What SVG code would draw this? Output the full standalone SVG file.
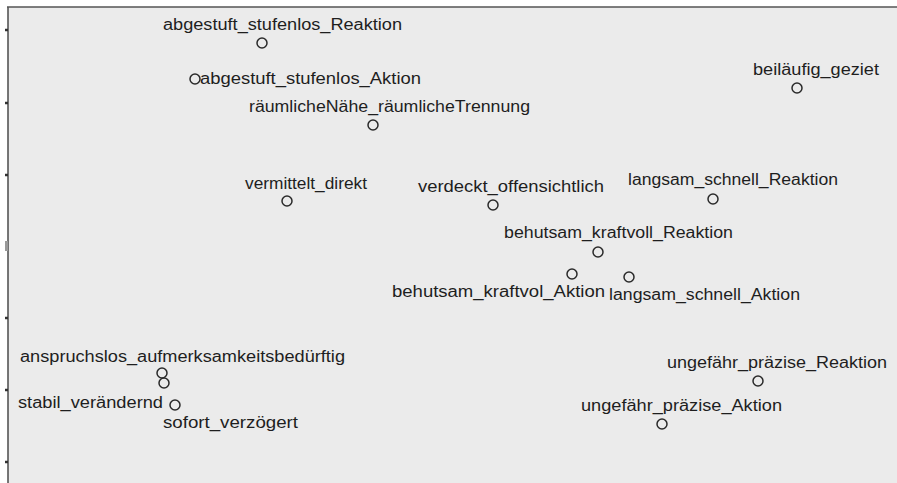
<svg xmlns="http://www.w3.org/2000/svg" width="897" height="483" viewBox="0 0 897 483">
<style>
.lbl{font-family:"Liberation Sans",Arial,sans-serif;font-size:16px;fill:#1e1e1e}
.pt{fill:none;stroke:#2a2a2a;stroke-width:1.5}
.frame{stroke:#555;stroke-width:1.6;fill:none}
.tick{stroke:#333;stroke-width:2.5}
</style>
<rect x="0" y="0" width="897" height="483" fill="#ffffff"/>
<rect x="8" y="7" width="889" height="476" fill="#ebebeb"/>
<g id="axes">
<line class="frame" x1="7" y1="7" x2="897" y2="7"/>
<line class="frame" x1="8" y1="7" x2="8" y2="483"/>
<line class="tick" x1="5" y1="30" x2="8" y2="30"/>
<line class="tick" x1="5" y1="103" x2="8" y2="103"/>
<line class="tick" x1="5" y1="175" x2="8" y2="175"/>
<line class="tick" x1="5" y1="318" x2="8" y2="318"/>
<line class="tick" x1="5" y1="390" x2="8" y2="390"/>
<line class="tick" x1="5" y1="462" x2="8" y2="462"/>
<rect x="5" y="241" width="3" height="10" fill="#999"/>
</g>
<g id="connectors"></g>
<g id="n1"><circle class="pt" cx="262" cy="43" r="5"/><text class="lbl" x="163" y="30" textLength="239" lengthAdjust="spacingAndGlyphs">abgestuft_stufenlos_Reaktion</text></g>
<g id="n2"><circle class="pt" cx="195" cy="79" r="5"/><text class="lbl" x="200" y="84" textLength="221" lengthAdjust="spacingAndGlyphs">abgestuft_stufenlos_Aktion</text></g>
<g id="n3"><circle class="pt" cx="373" cy="125" r="5"/><text class="lbl" x="249" y="112" textLength="281" lengthAdjust="spacingAndGlyphs">räumlicheNähe_räumlicheTrennung</text></g>
<g id="n4"><circle class="pt" cx="287" cy="201" r="5"/><text class="lbl" x="245" y="189" textLength="122" lengthAdjust="spacingAndGlyphs">vermittelt_direkt</text></g>
<g id="n5"><circle class="pt" cx="493" cy="205" r="5"/><text class="lbl" x="418" y="192" textLength="186" lengthAdjust="spacingAndGlyphs">verdeckt_offensichtlich</text></g>
<g id="n6"><circle class="pt" cx="713" cy="199" r="5"/><text class="lbl" x="628" y="185" textLength="210" lengthAdjust="spacingAndGlyphs">langsam_schnell_Reaktion</text></g>
<g id="n7"><circle class="pt" cx="797" cy="88" r="5"/><text class="lbl" x="753" y="75" textLength="126" lengthAdjust="spacingAndGlyphs">beiläufig_geziet</text></g>
<g id="n8"><circle class="pt" cx="598" cy="252" r="5"/><text class="lbl" x="504" y="238" textLength="229" lengthAdjust="spacingAndGlyphs">behutsam_kraftvoll_Reaktion</text></g>
<g id="n9"><circle class="pt" cx="572" cy="274" r="5"/><text class="lbl" x="392" y="297" textLength="213" lengthAdjust="spacingAndGlyphs">behutsam_kraftvol_Aktion</text></g>
<g id="n10"><circle class="pt" cx="629" cy="277" r="5"/><text class="lbl" x="609" y="300" textLength="191" lengthAdjust="spacingAndGlyphs">langsam_schnell_Aktion</text></g>
<g id="n11"><circle class="pt" cx="758" cy="381" r="5"/><text class="lbl" x="667" y="368" textLength="220" lengthAdjust="spacingAndGlyphs">ungefähr_präzise_Reaktion</text></g>
<g id="n12"><circle class="pt" cx="662" cy="424" r="5"/><text class="lbl" x="581" y="411" textLength="201" lengthAdjust="spacingAndGlyphs">ungefähr_präzise_Aktion</text></g>
<g id="n13"><circle class="pt" cx="162" cy="373" r="5"/><text class="lbl" x="20" y="362" textLength="325" lengthAdjust="spacingAndGlyphs">anspruchslos_aufmerksamkeitsbedürftig</text></g>
<g id="n14"><circle class="pt" cx="164" cy="383" r="5"/><text class="lbl" x="18" y="408" textLength="145" lengthAdjust="spacingAndGlyphs">stabil_verändernd</text></g>
<g id="n15"><circle class="pt" cx="175" cy="405" r="5"/><text class="lbl" x="163" y="428" textLength="135" lengthAdjust="spacingAndGlyphs">sofort_verzögert</text></g>
</svg>
